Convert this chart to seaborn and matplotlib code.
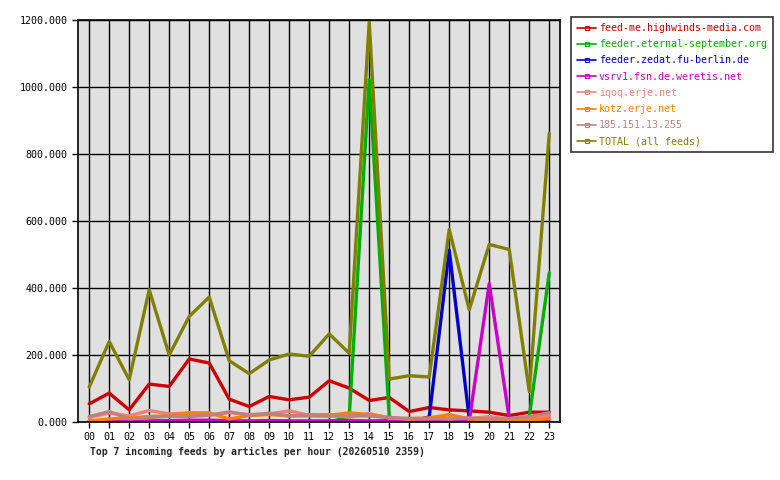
import pandas as pd
import matplotlib
matplotlib.use("Agg")
import matplotlib.pyplot as plt
from matplotlib.lines import Line2D
import seaborn as sns

hours = [f"{h:02d}" for h in range(24)]

feed_names = [
    "feed-me.highwinds-media.com",
    "feeder.eternal-september.org",
    "feeder.zedat.fu-berlin.de",
    "vsrv1.fsn.de.weretis.net",
    "iqoq.erje.net",
    "kotz.erje.net",
    "185.151.13.255",
    "TOTAL (all feeds)",
]
feed_colors = ["#cc0000", "#00b000", "#0000cc", "#cc00cc",
               "#f08080", "#ff8000", "#c08080", "#808000"]

highwinds = [54, 86, 36, 113, 106, 188, 176, 68, 46, 76, 66, 74,
             123, 101, 64, 73, 31, 43, 36, 33, 29, 19, 29, 29]
eternal = [0, 0, 0, 0, 0, 0, 0, 0, 0, 0, 0, 0,
           0, 15, 1023, 15, 0, 0, 0, 0, 0, 0, 15, 445]
zedat = [0, 0, 0, 0, 0, 0, 0, 0, 0, 0, 0, 0,
         0, 0, 0, 0, 0, 15, 513, 10, 0, 0, 0, 0]
weretis = [3, 2, 2, 3, 4, 5, 5, 4, 3, 4, 3, 3,
           3, 4, 3, 4, 5, 5, 4, 3, 413, 10, 5, 8]
iqoq = [13, 27, 18, 34, 24, 27, 20, 28, 22, 24, 33, 20,
        22, 14, 25, 12, 8, 10, 12, 10, 16, 8, 12, 20]
kotz = [3, 9, 12, 16, 19, 27, 27, 9, 19, 22, 18, 22,
        20, 27, 22, 12, 10, 12, 22, 9, 5, 3, 5, 10]
ip_feed = [16, 31, 9, 13, 17, 16, 20, 30, 20, 26, 18, 18,
           17, 18, 18, 13, 10, 10, 8, 12, 8, 10, 16, 27]
total = [104, 240, 126, 395, 200, 315, 373, 183, 144, 185, 203, 196,
         263, 205, 1195, 128, 138, 134, 575, 335, 530, 515, 91, 862]

series = [highwinds, eternal, zedat, weretis, iqoq, kotz, ip_feed, total]

rows = []
for name, vals in zip(feed_names, series):
    for h, v in enumerate(vals):
        rows.append({"hour": h, "articles": v, "feed": name})
df = pd.DataFrame(rows)

sns.set_style("white")
plt.rcParams["font.family"] = ["DejaVu Sans Mono"]

fig = plt.figure(figsize=(7.8, 4.8), dpi=100)
ax = fig.add_axes([0.1, 0.121, 0.618, 0.837])
ax.set_facecolor("#e0e0e0")

sns.lineplot(data=df, x="hour", y="articles", hue="feed",
             hue_order=feed_names, palette=feed_colors,
             linewidth=2.4, legend=False, ax=ax)

ax.set_xlim(-0.56, 23.54)
ax.set_ylim(0, 1200)
ax.set_xticks(range(24))
ax.set_xticklabels(hours)
ax.set_yticks(range(0, 1201, 200))
ax.set_yticklabels([f"{v}.000" for v in range(0, 1201, 200)])
ax.grid(True, color="black", linewidth=1.0)
ax.set_axisbelow(True)
ax.tick_params(axis="both", labelsize=7.2, length=4, width=1,
               color="black", labelcolor="black", direction="out",
               bottom=True, left=True)
for s in ax.spines.values():
    s.set_color("black")
    s.set_linewidth(1.2)
ax.set_xlabel("")
ax.set_ylabel("")

fig.text(0.115, 0.052, "Top 7 incoming feeds by articles per hour (20260510 2359)",
         fontsize=7.0, fontweight="bold", ha="left", va="baseline")

handles = [Line2D([0], [0], color=c, linewidth=1.2, marker="s", markersize=3,
                  markerfacecolor="none", markeredgecolor=c, markeredgewidth=0.8)
           for c in feed_colors]
leg = fig.legend(handles, feed_names, loc="upper left",
                 bbox_to_anchor=(571 / 780, 1 - 17 / 480), borderaxespad=0,
                 fontsize=7.2, frameon=True, fancybox=False, handlelength=1.9,
                 handletextpad=0.3, labelspacing=0.62, borderpad=0.6,
                 markerfirst=True)
leg.get_frame().set_edgecolor("black")
leg.get_frame().set_linewidth(1.2)
for t, c in zip(leg.get_texts(), feed_colors):
    t.set_color(c)

fig.savefig("out.png", dpi=100)
